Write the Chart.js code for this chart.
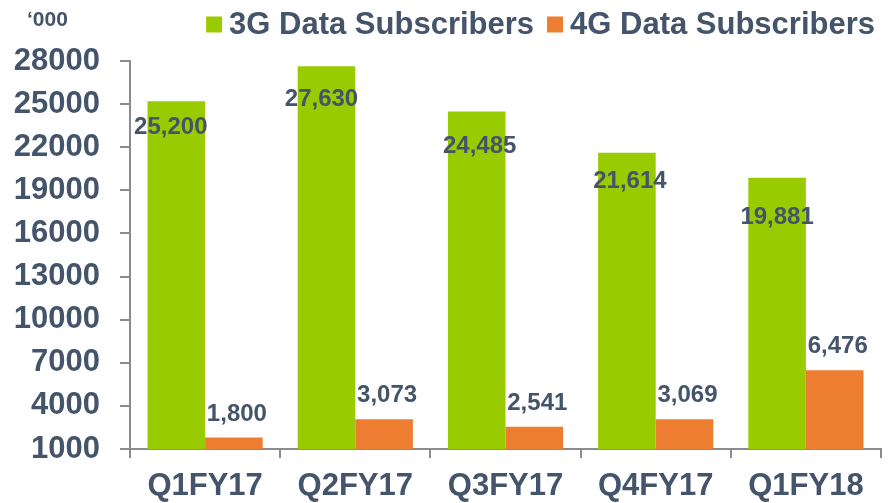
<!DOCTYPE html>
<html>
<head>
<meta charset="utf-8">
<script src="https://cdn.jsdelivr.net/npm/chart.js@4/dist/chart.umd.min.js"></script>
<style>
  html, body { margin: 0; padding: 0; background: #ffffff; }
  #wrap { width: 894px; height: 503px; position: relative; }
</style>
</head>
<body>
<div id="wrap"><canvas id="c" width="894" height="503"></canvas></div>
<script>
const categories = ['Q1FY17', 'Q2FY17', 'Q3FY17', 'Q4FY17', 'Q1FY18'];
const subs3G = [25200, 27630, 24485, 21614, 19881];
const subs4G = [1800, 3073, 2541, 3069, 6476];
const seriesNames = ['3G Data Subscribers', '4G Data Subscribers'];
const unitLabel = '\u2018000';

const TEXT = '#44546A';
const GREEN = '#99CC00';
const ORANGE = '#ED7D31';
const AXIS = '#8C8C8C';
const FONT = '"Liberation Sans", Arial, sans-serif';

const overlay = {
  id: 'overlay',
  afterDatasetsDraw(chart, args, opts) {
    const ctx = chart.ctx;
    ctx.save();
    ctx.fillStyle = TEXT;
    // data labels
    ctx.font = 'bold 24px ' + FONT;
    ctx.textAlign = 'center';
    ctx.textBaseline = 'middle';
    chart.data.datasets.forEach((ds, di) => {
      const meta = chart.getDatasetMeta(di);
      meta.data.forEach((bar, i) => {
        const txt = ds.data[i].toLocaleString('en-US');
        let x, y;
        if (di === 0) {
          x = bar.x + opts.dx3G[i];
          y = bar.y + opts.dy3G[i];
        } else {
          x = bar.x + 3;
          y = bar.y - 24.5;
        }
        ctx.fillText(txt, x, y + 1);
      });
    });
    // unit label
    ctx.font = 'bold 21px ' + FONT;
    ctx.textAlign = 'left';
    ctx.fillText(unitLabel, 27, 20);
    // legend
    ctx.font = 'bold 31px ' + FONT;
    const right = 875;
    const w2 = ctx.measureText(seriesNames[1]).width;
    const t2 = right - w2;
    const b2 = t2 - 7 - 16;
    const w1 = ctx.measureText(seriesNames[0]).width;
    const t1 = b2 - 13 - w1;
    const b1 = t1 - 7 - 16;
    const cy = 24.5;
    ctx.fillStyle = GREEN;
    ctx.fillRect(b1, cy - 8, 16, 16);
    ctx.fillStyle = ORANGE;
    ctx.fillRect(b2, cy - 8, 16, 16);
    ctx.fillStyle = TEXT;
    ctx.textBaseline = 'middle';
    ctx.fillText(seriesNames[0], t1, cy + 1);
    ctx.fillText(seriesNames[1], t2, cy + 1);
    ctx.restore();
  }
};

new Chart(document.getElementById('c'), {
  type: 'bar',
  data: {
    labels: categories,
    datasets: [
      { label: seriesNames[0], data: subs3G, backgroundColor: GREEN, borderWidth: 0 },
      { label: seriesNames[1], data: subs4G, backgroundColor: ORANGE, borderWidth: 0 }
    ]
  },
  options: {
    responsive: false,
    animation: false,
    devicePixelRatio: 1,
    layout: { padding: { top: 61, right: 13, left: 0, bottom: 0 } },
    datasets: { bar: { categoryPercentage: 0.767, barPercentage: 1.0 } },
    plugins: {
      legend: { display: false },
      tooltip: { enabled: false },
      overlay: {
        dx3G: [-5.5, -5, 3, 3, 0],
        dy3G: [25.5, 32.5, 34, 27.5, 39]
      }
    },
    scales: {
      x: {
        offset: true,
        grid: {
          offset: true, drawOnChartArea: false, drawTicks: true,
          tickLength: 9, color: AXIS, lineWidth: 2
        },
        border: { color: AXIS, width: 2 },
        ticks: {
          color: TEXT, padding: 10,
          font: { family: FONT, size: 31, weight: 'bold' }
        },
        afterFit(scale) { scale.height = 54; }
      },
      y: {
        min: 1000, max: 28000,
        grid: {
          drawOnChartArea: false, drawTicks: true,
          tickLength: 10, color: AXIS, lineWidth: 2
        },
        border: { color: AXIS, width: 2 },
        ticks: {
          stepSize: 3000, color: TEXT, padding: 20,
          font: { family: FONT, size: 31, weight: 'bold' },
          callback: (v) => String(v)
        },
        afterFit(scale) { scale.width = 130; }
      }
    }
  },
  plugins: [overlay]
});
</script>
</body>
</html>
